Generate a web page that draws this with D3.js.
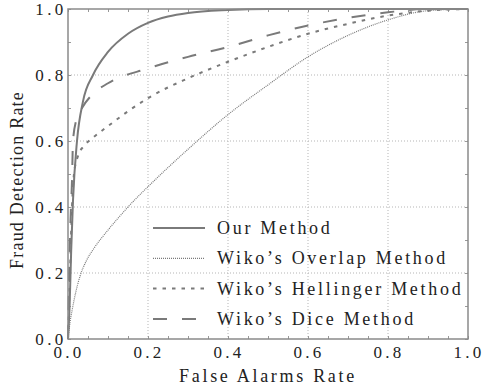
<!DOCTYPE html>
<html>
<head>
<meta charset="utf-8">
<script src="https://cdn.jsdelivr.net/npm/d3@7"></script>
<style>
  body { margin: 0; background: #fff; }
  text { font-family: "Liberation Serif", serif; fill: #222; }
</style>
</head>
<body>
<div id="chart"></div>
<script>
// data
var ourMethod = [[0,0],[0.004,0.1],[0.008,0.27],[0.0125,0.42],[0.0225,0.6],[0.0375,0.72],[0.0625,0.8],[0.1,0.87],[0.15,0.925],[0.2,0.958],[0.25,0.977],[0.3,0.988],[0.4,0.997],[0.5,1],[1,1]];
var overlap = [[0,0],[0.005,0.05],[0.01,0.085],[0.02,0.145],[0.03,0.19],[0.045,0.235],[0.065,0.275],[0.1,0.33],[0.15,0.4],[0.22,0.485],[0.3,0.575],[0.4,0.68],[0.5,0.77],[0.6,0.855],[0.7,0.92],[0.8,0.967],[0.9,0.995],[1,1]];
var hellinger = [[0,0],[0.005,0.2],[0.01,0.4],[0.015,0.5],[0.025,0.555],[0.04,0.585],[0.0625,0.61],[0.1,0.645],[0.15,0.69],[0.2,0.73],[0.3,0.79],[0.4,0.84],[0.5,0.885],[0.6,0.925],[0.7,0.955],[0.8,0.98],[0.9,0.995],[1,1]];
var dice = [[0,0],[0.003,0.2],[0.006,0.35],[0.01,0.48],[0.0125,0.6],[0.02,0.66],[0.035,0.7],[0.06,0.74],[0.1,0.775],[0.2,0.82],[0.3,0.855],[0.4,0.885],[0.5,0.92],[0.6,0.95],[0.7,0.973],[0.8,0.99],[0.9,1],[1,1]];

var seriesNames = ["Our Method", "Wiko\u2019s Overlap Method", "Wiko\u2019s Hellinger Method", "Wiko\u2019s Dice Method"];
var tickValues = [0, 0.2, 0.4, 0.6, 0.8, 1.0];

var margin = { top: 9, right: 16, bottom: 48, left: 68 },
  width = 484 - margin.left - margin.right,
  height = 387 - margin.top - margin.bottom;

var svg = d3.select("#chart")
  .append("svg")
  .attr("width", 484)
  .attr("height", 387)
  .append("g")
  .attr("transform", "translate(" + margin.left + "," + margin.top + ")");

var x = d3.scaleLinear().domain([0, 1]).range([0, width]);
var y = d3.scaleLinear().domain([0, 1]).range([height, 0]);

// dotted grid
svg.append("g")
  .selectAll("line")
  .data(tickValues.slice(1, -1))
  .enter()
  .append("line")
  .attr("x1", function (d) { return x(d); })
  .attr("x2", function (d) { return x(d); })
  .attr("y1", 0)
  .attr("y2", height)
  .attr("stroke", "#b5b5b5")
  .attr("stroke-dasharray", "1,2");

svg.append("g")
  .selectAll("line")
  .data(tickValues.slice(1, -1))
  .enter()
  .append("line")
  .attr("y1", function (d) { return y(d); })
  .attr("y2", function (d) { return y(d); })
  .attr("x1", 0)
  .attr("x2", width)
  .attr("stroke", "#b5b5b5")
  .attr("stroke-dasharray", "1,2");

// minor ticks pointing inwards
var bottomAxis = svg.append("g")
  .attr("transform", "translate(0," + height + ")")
  .call(d3.axisTop(x).tickValues(d3.range(0, 1.001, 0.05)).tickSize(3).tickFormat(""));
var topAxis = svg.append("g")
  .call(d3.axisBottom(x).tickValues(d3.range(0, 1.001, 0.05)).tickSize(3).tickFormat(""));
var leftAxis = svg.append("g")
  .call(d3.axisRight(y).tickValues(d3.range(0, 1.001, 0.1)).tickSize(3).tickFormat(""));
var rightAxis = svg.append("g")
  .attr("transform", "translate(" + width + ",0)")
  .call(d3.axisLeft(y).tickValues(d3.range(0, 1.001, 0.1)).tickSize(3).tickFormat(""));

[bottomAxis, topAxis, leftAxis, rightAxis].forEach(function (a) {
  a.select(".domain").remove();
  a.selectAll("line").attr("stroke", "#999");
});

// tick labels
svg.append("g")
  .selectAll("text")
  .data(tickValues)
  .enter()
  .append("text")
  .attr("x", function (d) { return x(d) + 1; })
  .attr("y", height + 19)
  .attr("text-anchor", "middle")
  .style("font-size", "17px")
  .style("letter-spacing", "3.3px")
  .text(function (d) { return d3.format(".1f")(d); });

svg.append("g")
  .selectAll("text")
  .data(tickValues)
  .enter()
  .append("text")
  .attr("x", -1.5)
  .attr("y", function (d) { return y(d) + 6; })
  .attr("text-anchor", "end")
  .style("font-size", "17px")
  .style("letter-spacing", "3.3px")
  .text(function (d) { return d3.format(".1f")(d); });

// axis titles
svg.append("text")
  .attr("x", width / 2)
  .attr("y", height + 43)
  .attr("text-anchor", "middle")
  .style("font-size", "18px")
  .style("letter-spacing", "2.7px")
  .text("False Alarms Rate");

svg.append("text")
  .attr("transform", "translate(" + (-45) + "," + (height / 2 + 6) + ") rotate(-90)")
  .attr("text-anchor", "middle")
  .style("font-size", "18px")
  .style("letter-spacing", "1.2px")
  .text("Fraud Detection Rate");

// curves
var line = d3.line()
  .x(function (d) { return x(d[0]); })
  .y(function (d) { return y(d[1]); })
  .curve(d3.curveMonotoneX);

var styles = [
  { data: ourMethod, width: 2, dash: null },
  { data: overlap, width: 1.2, dash: "1,1" },
  { data: hellinger, width: 2, dash: "3.5,6" },
  { data: dice, width: 2, dash: "14,15" }
];

styles.forEach(function (s) {
  svg.append("path")
    .datum(s.data)
    .attr("d", line)
    .attr("fill", "none")
    .attr("stroke", "#7a7a7a")
    .attr("stroke-width", s.width)
    .attr("stroke-dasharray", s.dash);
});

// frame
svg.append("rect")
  .attr("width", width)
  .attr("height", height)
  .attr("fill", "none")
  .attr("stroke", "#8a8a8a")
  .attr("stroke-width", 1.5);

// legend
var legend = svg.append("g");
seriesNames.forEach(function (name, i) {
  var ly = 219 + i * 30.3;
  legend.append("line")
    .attr("x1", 85)
    .attr("x2", 137)
    .attr("y1", ly)
    .attr("y2", ly)
    .attr("stroke", "#7a7a7a")
    .attr("stroke-width", styles[i].width)
    .attr("stroke-dasharray", styles[i].dash);
  legend.append("text")
    .attr("x", 149)
    .attr("y", ly + 6)
    .style("font-size", "18px")
    .style("letter-spacing", "2.7px")
    .text(name);
});
</script>
</body>
</html>
